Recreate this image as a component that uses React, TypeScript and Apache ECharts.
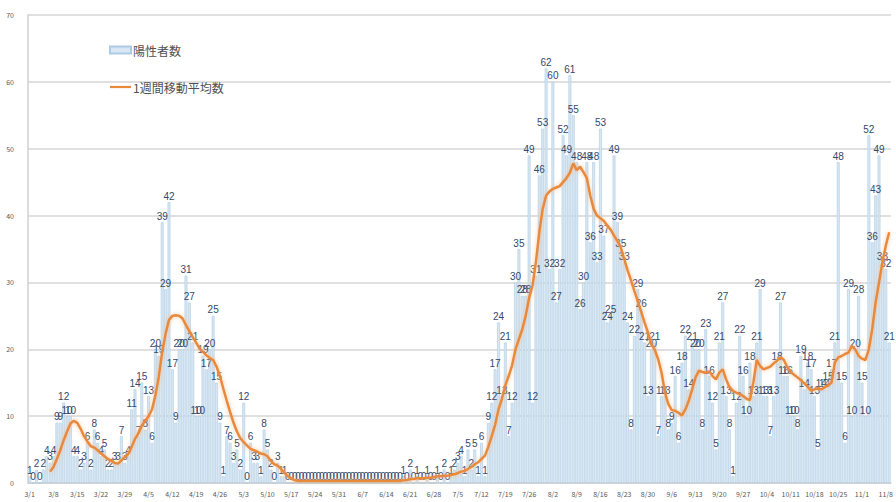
import React, { useEffect, useRef } from "react";
import * as echarts from "echarts";

// month number and day count (2020, from 3/1 to 11/9)
const MONTHS = [3, 4, 5, 6, 7, 8, 9, 10, 11];
const MONTH_DAYS = [31, 30, 31, 30, 31, 31, 30, 31, 9];

// daily positive counts (陽性者数)
const MAR = [1, 0, 2, 0, 2, 4, 3, 4, 9, 9, 12, 10, 10, 4, 4, 2, 3, 6, 2, 8, 6, 4, 5, 2, 2, 3, 3, 7, 3, 4, 11];
const APR = [14, 7, 15, 8, 13, 6, 20, 19, 39, 29, 42, 17, 9, 20, 20, 31, 27, 21, 10, 10, 19, 17, 20, 25, 15, 9, 1, 7, 6, 3];
const MAY = [5, 2, 12, 0, 6, 3, 3, 1, 8, 5, 2, 0, 3, 1, 1, 0, 0, 0, 0, 0, 0, 0, 0, 0, 0, 0, 0, 0, 0, 0, 0];
const JUN = [0, 0, 0, 0, 0, 0, 0, 0, 0, 0, 0, 0, 0, 0, 0, 0, 0, 0, 1, 0, 2, 0, 1, 0, 0, 1, 0, 0, 1, 0];
const JUL = [2, 0, 1, 2, 3, 4, 1, 5, 2, 5, 1, 6, 1, 9, 12, 17, 24, 13, 21, 7, 12, 30, 35, 28, 28, 49, 12, 31, 46, 53, 62];
const AUG = [32, 60, 27, 32, 52, 49, 61, 55, 48, 26, 30, 48, 36, 48, 33, 53, 37, 24, 25, 49, 39, 35, 33, 24, 8, 22, 29, 26, 21, 13, 20];
const SEP = [21, 7, 13, 13, 8, 9, 16, 6, 18, 22, 14, 21, 20, 20, 8, 23, 16, 12, 5, 21, 27, 13, 8, 1, 12, 22, 16, 10, 18, 13];
const OCT = [21, 29, 13, 13, 7, 13, 18, 27, 16, 16, 10, 10, 8, 19, 14, 18, 17, 13, 5, 14, 14, 15, 17, 21, 48, 15, 6, 29, 10, 20, 28];
const NOV = [15, 10, 52, 36, 43, 49, 33, 32, 21];

// 1週間移動平均数
const MA_MAR = [null, null, null, null, null, null, 1.7, 2.4, 3.6, 4.9, 6.4, 7.7, 8.9, 9.3, 9.0, 8.1, 7.0, 6.2, 5.5, 5.3, 4.9, 4.4, 4.0, 3.6, 3.3, 3.0, 2.9, 3.4, 3.9, 4.3, 5.4];
const MA_APR = [6.6, 7.4, 8.6, 9.3, 10.0, 11.0, 13.1, 15.9, 19.6, 22.3, 24.4, 25.0, 25.1, 25.0, 24.6, 23.6, 22.7, 21.8, 21.0, 20.1, 19.6, 19.1, 18.7, 18.4, 17.4, 16.0, 14.1, 12.3, 10.6, 9.0];
const MA_MAY = [7.7, 6.7, 6.1, 5.6, 5.1, 4.9, 4.7, 4.4, 4.3, 4.0, 3.3, 2.8, 2.6, 2.1, 1.5, 1.0, 0.7, 0.4, 0.3, 0.3, 0.3, 0.3, 0.3, 0.3, 0.3, 0.3, 0.3, 0.3, 0.3, 0.3, 0.3];
const MA_JUN = [0.3, 0.3, 0.3, 0.3, 0.3, 0.3, 0.3, 0.3, 0.3, 0.3, 0.3, 0.3, 0.3, 0.3, 0.3, 0.3, 0.3, 0.3, 0.4, 0.4, 0.6, 0.6, 0.7, 0.7, 0.7, 0.8, 0.8, 0.9, 1.0, 1.0];
const MA_JUL = [1.1, 1.1, 1.2, 1.3, 1.5, 1.7, 1.8, 2.1, 2.4, 2.8, 3.1, 3.6, 4.1, 5.4, 7.0, 8.7, 11.0, 12.6, 14.6, 16.0, 17.6, 20.0, 21.5, 23.0, 25.0, 27.7, 29.5, 33.0, 37.5, 41.0, 43.0];
const MA_AUG = [43.6, 44.0, 44.2, 44.4, 45.0, 45.6, 46.4, 47.8, 46.8, 47.3, 46.5, 45.6, 43.0, 41.0, 40.0, 39.6, 39.2, 38.5, 37.9, 37.0, 36.2, 35.2, 33.5, 31.8, 30.3, 28.7, 27.2, 25.6, 24.0, 22.5, 20.7];
const MA_SEP = [19.9, 18.5, 16.5, 13.5, 11.8, 10.9, 10.8, 10.5, 10.1, 11.0, 12.3, 14.0, 15.8, 16.8, 16.6, 16.5, 16.7, 16.0, 15.5, 16.5, 17.0, 15.5, 14.3, 13.8, 13.5, 13.3, 13.0, 12.6, 12.4, 15.0];
const MA_OCT = [18.4, 17.5, 17.0, 17.2, 17.4, 17.9, 18.3, 18.8, 18.4, 17.3, 16.6, 16.2, 15.8, 15.4, 14.9, 14.4, 13.8, 14.0, 14.2, 14.0, 14.3, 14.6, 15.0, 18.0, 18.8, 19.0, 19.3, 19.5, 20.5, 20.0, 19.0];
const MA_NOV = [18.6, 18.4, 20.0, 23.0, 27.0, 30.0, 33.0, 35.5, 37.5];

const Y_TICKS = [0, 10, 20, 30, 40, 50, 60, 70];
const SERIES_NAMES = ["陽性者数", "1週間移動平均数"];

const categories: string[] = [];
MONTHS.forEach((m, k) => {
  for (let d = 1; d <= MONTH_DAYS[k]; d++) categories.push(`${m}/${d}`);
});
const positives = [...MAR, ...APR, ...MAY, ...JUN, ...JUL, ...AUG, ...SEP, ...OCT, ...NOV];
const movingAvg = [...MA_MAR, ...MA_APR, ...MA_MAY, ...MA_JUN, ...MA_JUL, ...MA_AUG, ...MA_SEP, ...MA_OCT, ...MA_NOV];

export default function App() {
  const ref = useRef<HTMLDivElement>(null);
  useEffect(() => {
    if (!ref.current) return;
    const chart = echarts.init(ref.current, null, { renderer: "svg" });
    chart.setOption({
      animation: false,
      backgroundColor: "#ffffff",
      textStyle: { fontFamily: "'Noto Sans CJK JP', 'Noto Sans', sans-serif" },
      grid: { left: 28, right: 0, top: 15, bottom: 19, containLabel: false },
      legend: {
        orient: "vertical",
        left: 104,
        top: 39,
        itemWidth: 21,
        itemHeight: 7,
        itemGap: 25,
        symbolKeepAspect: true,
        data: [
          { name: SERIES_NAMES[0], icon: "rect" },
          {
            name: SERIES_NAMES[1],
            icon: "path://M0,0L21,0L21,2.2L0,2.2Z",
            itemStyle: { color: "#e9893a" },
          },
        ],
        textStyle: { fontSize: 12, color: "#505050", padding: [0, 0, 0, -3] },
      },
      xAxis: {
        type: "category",
        data: categories,
        boundaryGap: true,
        axisLine: { lineStyle: { color: "#d0d0d0", width: 1.5 } },
        axisTick: { show: false },
        axisLabel: { interval: 6, fontSize: 7, color: "#595959", margin: 7 },
      },
      yAxis: {
        type: "value",
        min: Y_TICKS[0],
        max: Y_TICKS[Y_TICKS.length - 1],
        interval: 10,
        axisLine: { show: true, lineStyle: { color: "#d0d0d0", width: 1.5 } },
        axisTick: { show: false },
        axisLabel: { fontSize: 7, color: "#595959", margin: 14 },
        splitLine: { lineStyle: { color: "#d6d6d6", width: 1.5 } },
      },
      series: [
        {
          name: SERIES_NAMES[0],
          type: "bar",
          data: positives,
          barCategoryGap: "18%",
          itemStyle: { color: "#d8e7f3", borderColor: "#adcbe3", borderWidth: 0.6 },
          label: {
            show: true,
            position: "top",
            distance: 1,
            fontSize: 10,
            color: "#35496a",
            fontFamily: "'Liberation Sans', sans-serif",
          },
          z: 2,
        },
        {
          name: SERIES_NAMES[1],
          type: "line",
          data: movingAvg,
          symbol: "none",
          smooth: false,
          connectNulls: false,
          lineStyle: {
            color: "#e9893a",
            width: 2.5,
            shadowColor: "rgba(246, 190, 140, 0.9)",
            shadowBlur: 4,
          },
          itemStyle: { color: "#e9893a" },
          z: 3,
        },
      ],
    });
    return () => chart.dispose();
  }, []);
  return (
    <div
      ref={ref}
      style={{ position: "fixed", left: 0, top: 0, width: 896, height: 502 }}
    />
  );
}
